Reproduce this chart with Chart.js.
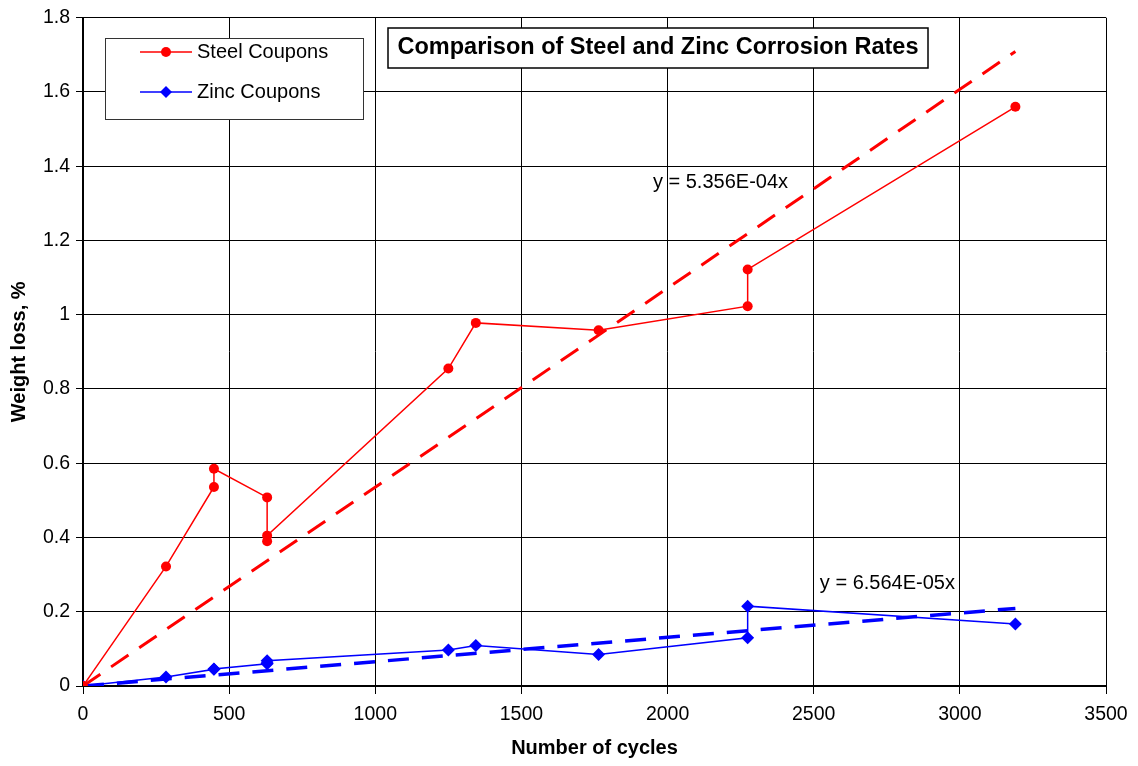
<!DOCTYPE html>
<html>
<head>
<meta charset="utf-8">
<script src="https://cdn.jsdelivr.net/npm/chart.js@4/dist/chart.umd.min.js"></script>
<style>
  html, body { margin: 0; padding: 0; background: #fff; }
  #wrap { width: 1138px; height: 766px; }
</style>
</head>
<body>
<div id="wrap"><canvas id="corrosion_chart" width="1138" height="766"></canvas></div>
<script>
// values
const cycles      = [0, 284, 448, 448, 630, 630, 630, 1250, 1344, 1764, 2274, 2274, 3190];
const steelLoss   = [0, 0.322, 0.536, 0.585, 0.508, 0.390, 0.405, 0.855, 0.978, 0.958, 1.023, 1.122, 1.560];
const zincLoss    = [0, 0.024, 0.045, 0.046, 0.060, 0.062, 0.068, 0.097, 0.109, 0.085, 0.130, 0.215, 0.167];
const trendX      = [0, 3190];
const steelTrendY = [0, 1.709];
const zincTrendY  = [0, 0.209];
const xTicks      = [0, 500, 1000, 1500, 2000, 2500, 3000, 3500];
const yTicks      = [0, 0.2, 0.4, 0.6, 0.8, 1, 1.2, 1.4, 1.6, 1.8];

const FONT = "'Liberation Sans', Arial, sans-serif";
const RED  = "#ff0000";
const BLUE = "#0000ff";

const toPts = (xs, ys) => xs.map((x, i) => ({ x, y: ys[i] }));

// title box, legend box and trendline equations
const overlayPlugin = {
  id: "overlay",
  afterDraw(chart) {
    const c = chart.ctx;
    const xs = chart.scales.x, ys = chart.scales.y;
    c.save();

    // title
    c.fillStyle = "#fff";
    c.fillRect(388, 28, 540, 40);
    c.strokeStyle = "#000";
    c.lineWidth = 1.5;
    c.strokeRect(388, 28, 540, 40);
    c.fillStyle = "#000";
    c.font = `bold 23.5px ${FONT}`;
    c.textAlign = "center";
    c.textBaseline = "middle";
    c.fillText("Comparison of Steel and Zinc Corrosion Rates", 658, 48);

    // legend
    c.fillStyle = "#fff";
    c.fillRect(105, 38, 258, 81);
    c.lineWidth = 1;
    c.strokeStyle = "#333";
    c.strokeRect(105.5, 38.5, 258, 81);
    const items = [
      { label: "Steel Coupons", color: RED, y: 52, shape: "circle" },
      { label: "Zinc Coupons", color: BLUE, y: 92, shape: "diamond" },
    ];
    items.forEach((it) => {
      c.strokeStyle = it.color;
      c.fillStyle = it.color;
      c.lineWidth = 1.5;
      c.beginPath();
      c.moveTo(140, it.y);
      c.lineTo(192, it.y);
      c.stroke();
      c.beginPath();
      if (it.shape === "circle") {
        c.arc(166, it.y, 5, 0, Math.PI * 2);
      } else {
        c.moveTo(166, it.y - 6);
        c.lineTo(172, it.y);
        c.lineTo(166, it.y + 6);
        c.lineTo(160, it.y);
        c.closePath();
      }
      c.fill();
      c.fillStyle = "#000";
      c.font = `20px ${FONT}`;
      c.textAlign = "left";
      c.textBaseline = "middle";
      c.fillText(it.label, 197, it.y);
    });

    // trendline equations, anchored in data space
    c.fillStyle = "#000";
    c.font = `20px ${FONT}`;
    c.textAlign = "left";
    c.textBaseline = "middle";
    c.fillText("y = 5.356E-04x", xs.getPixelForValue(1950), ys.getPixelForValue(1.357));
    c.fillText("y = 6.564E-05x", xs.getPixelForValue(2521), ys.getPixelForValue(0.277));
    c.restore();
  },
};

const ctx = document.getElementById("corrosion_chart").getContext("2d");

new Chart(ctx, {
  type: "scatter",
  data: {
    datasets: [
      {
        label: "Steel Coupons",
        data: toPts(cycles, steelLoss),
        showLine: true,
        borderColor: RED,
        backgroundColor: RED,
        borderWidth: 1.5,
        pointStyle: "circle",
        pointRadius: 5,
        pointBorderWidth: 0,
      },
      {
        label: "Zinc Coupons",
        data: toPts(cycles, zincLoss),
        showLine: true,
        borderColor: BLUE,
        backgroundColor: BLUE,
        borderWidth: 1.5,
        pointStyle: "rectRot",
        pointRadius: 6.5,
        pointBorderWidth: 0,
      },
      {
        label: "Steel trend",
        data: toPts(trendX, steelTrendY),
        showLine: true,
        borderColor: RED,
        borderWidth: 3,
        borderDash: [21, 13],
        pointRadius: 0,
      },
      {
        label: "Zinc trend",
        data: toPts(trendX, zincTrendY),
        showLine: true,
        borderColor: BLUE,
        borderWidth: 3.5,
        borderDash: [21, 13],
        pointRadius: 0,
      },
    ],
  },
  options: {
    responsive: false,
    animation: false,
    devicePixelRatio: 1,
    layout: { padding: { left: 0, top: 15, right: 32, bottom: 0 } },
    plugins: {
      legend: { display: false },
      tooltip: { enabled: false },
    },
    scales: {
      x: {
        type: "linear",
        min: xTicks[0],
        max: xTicks[xTicks.length - 1],
        afterBuildTicks: (s) => { s.ticks = xTicks.map((v) => ({ value: v })); },
        afterFit: (s) => { s.height = 80; },
        grid: { color: "#000", lineWidth: 1, tickLength: 8, tickColor: "#000" },
        border: { color: "#000", width: 2 },
        ticks: {
          color: "#000",
          padding: 9,
          font: { family: FONT, size: 19.5 },
          callback: (v) => String(v),
        },
        title: {
          display: true,
          text: "Number of cycles",
          color: "#000",
          padding: { top: 0, bottom: 6 },
          font: { family: FONT, size: 20, weight: "bold" },
        },
      },
      y: {
        min: yTicks[0],
        max: yTicks[yTicks.length - 1],
        afterBuildTicks: (s) => { s.ticks = yTicks.map((v) => ({ value: v })); },
        afterFit: (s) => { s.width = 83; },
        grid: { color: "#000", lineWidth: 1, tickLength: 7, tickColor: "#000" },
        border: { color: "#000", width: 2 },
        ticks: {
          color: "#000",
          padding: 6,
          font: { family: FONT, size: 19.5 },
          callback: (v) => String(+v.toFixed(1)),
        },
        title: {
          display: true,
          text: "Weight loss, %",
          color: "#000",
          padding: { top: 7, bottom: 0 },
          font: { family: FONT, size: 20, weight: "bold" },
        },
      },
    },
  },
  plugins: [overlayPlugin],
});
</script>
</body>
</html>
